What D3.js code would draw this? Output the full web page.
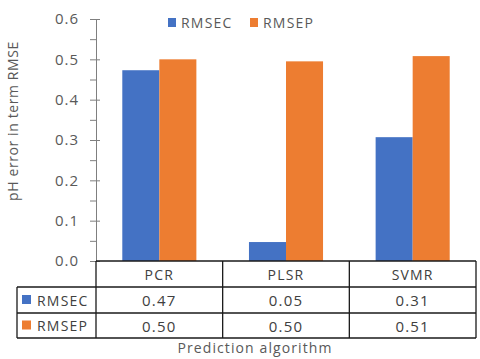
<!DOCTYPE html>
<html>
<head>
<meta charset="utf-8">
<script src="https://cdn.jsdelivr.net/npm/d3@7"></script>
<style>
  body { margin: 0; background: #fff; }
  text { font-family: "Open Sans", sans-serif; }
</style>
</head>
<body>
<div id="chart"></div>
<script>
const categories = ["PCR", "PLSR", "SVMR"];
const seriesNames = ["RMSEC", "RMSEP"];
const rmsec = [0.473, 0.047, 0.307];
const rmsep = [0.500, 0.495, 0.508];
const rmsecLabels = ["0.47", "0.05", "0.31"];
const rmsepLabels = ["0.50", "0.50", "0.51"];
const yTicks = [0, 0.1, 0.2, 0.3, 0.4, 0.5, 0.6];

const colors = { RMSEC: "#4472C4", RMSEP: "#ED7D31" };
const textColor = "#595959";

const width = 480, height = 359;
const plot = { left: 96, right: 476, top: 19, bottom: 261 };
const tableLeft = 17;
const rowH = [261, 287, 313, 338];

const svg = d3.select("#chart").append("svg")
    .attr("width", width)
    .attr("height", height);

const x = d3.scaleBand()
    .domain(categories)
    .range([plot.left, plot.right]);

const x1 = d3.scaleBand()
    .domain(seriesNames)
    .range([0, x.bandwidth()])
    .paddingOuter(0.71)
    .paddingInner(0);

const y = d3.scaleLinear()
    .domain([0, 0.6])
    .range([plot.bottom, plot.top]);

// bars
const data = categories.map((c, i) => ({ cat: c, RMSEC: rmsec[i], RMSEP: rmsep[i] }));
const groups = svg.append("g").selectAll("g")
    .data(data)
    .join("g")
    .attr("transform", d => `translate(${x(d.cat)},0)`);

groups.selectAll("rect")
    .data(d => seriesNames.map(s => ({ s, v: d[s] })))
    .join("rect")
    .attr("x", d => x1(d.s))
    .attr("width", x1.bandwidth())
    .attr("y", d => y(d.v))
    .attr("height", d => y(0) - y(d.v))
    .attr("fill", d => colors[d.s]);

// y axis with minor ticks
const axisColor = "#7f7f7f";
const minorTicks = d3.range(0.05, 0.6, 0.1);
const minor = svg.append("g")
    .attr("transform", `translate(${plot.left},0)`)
    .call(d3.axisLeft(y).tickValues(minorTicks).tickSize(6).tickFormat(""));
minor.select(".domain").remove();
minor.selectAll("line").attr("stroke", axisColor);

const yAxis = svg.append("g")
    .attr("transform", `translate(${plot.left},0)`)
    .call(d3.axisLeft(y).tickValues(yTicks).tickSize(6).tickPadding(11).tickSizeOuter(0)
        .tickFormat(d3.format(".1f")));
yAxis.select(".domain").attr("stroke", axisColor);
yAxis.selectAll(".tick line").attr("stroke", axisColor).attr("x2", 4).attr("x1", -6);
yAxis.selectAll(".tick text")
    .attr("fill", textColor)
    .attr("font-size", 15)
    .attr("letter-spacing", 1);

// y title
svg.append("text")
    .attr("transform", "translate(18,121) rotate(-90)")
    .attr("text-anchor", "middle")
    .attr("fill", textColor)
    .attr("font-size", 14)
    .attr("letter-spacing", 0.6)
    .text("pH error in term RMSE");

// legend
const legend = svg.append("g");
const legendX = [168, 250];
seriesNames.forEach((s, i) => {
    legend.append("rect")
        .attr("x", legendX[i]).attr("y", 18)
        .attr("width", 8).attr("height", 9)
        .attr("fill", colors[s]);
    legend.append("text")
        .attr("x", legendX[i] + 13).attr("y", 28)
        .attr("fill", textColor)
        .attr("font-size", 14)
        .attr("letter-spacing", 1.2)
        .text(s);
});

// data table
const tbl = svg.append("g");
const lineColor = "#1a1a1a";
const hline = (x1v, x2v, yv) => tbl.append("line")
    .attr("x1", x1v).attr("x2", x2v).attr("y1", yv).attr("y2", yv)
    .attr("stroke", lineColor).attr("stroke-width", 1.3);
const vline = (xv, y1v, y2v) => tbl.append("line")
    .attr("x1", xv).attr("x2", xv).attr("y1", y1v).attr("y2", y2v)
    .attr("stroke", lineColor).attr("stroke-width", 1.3);

hline(plot.left, plot.right, rowH[0]);
hline(tableLeft, plot.right, rowH[1]);
hline(tableLeft, plot.right, rowH[2]);
hline(tableLeft, plot.right, rowH[3]);
vline(tableLeft, rowH[1], rowH[3]);
categories.forEach(c => vline(x(c), rowH[0], rowH[3]));
vline(plot.right, rowH[0], rowH[3]);

const cellText = (xv, yv, t, anchor, size) => tbl.append("text")
    .attr("x", xv).attr("y", yv)
    .attr("text-anchor", anchor || "middle")
    .attr("dominant-baseline", "central")
    .attr("fill", "#404040")
    .attr("font-size", size || 14)
    .attr("letter-spacing", 1.2)
    .text(t);

categories.forEach((c, i) => {
    const cx = x(c) + x.bandwidth() / 2;
    cellText(cx, (rowH[0] + rowH[1]) / 2, c);
    cellText(cx, (rowH[1] + rowH[2]) / 2, rmsecLabels[i], "middle", 15);
    cellText(cx, (rowH[2] + rowH[3]) / 2, rmsepLabels[i], "middle", 15);
});
seriesNames.forEach((s, i) => {
    const cy = (rowH[i + 1] + rowH[i + 2]) / 2;
    tbl.append("rect")
        .attr("x", 22).attr("y", cy - 5)
        .attr("width", 9).attr("height", 9)
        .attr("fill", colors[s]);
    cellText(37, cy, s, "start");
});

// x title
svg.append("text")
    .attr("x", 255).attr("y", 353)
    .attr("text-anchor", "middle")
    .attr("fill", textColor)
    .attr("font-size", 14)
    .attr("letter-spacing", 1.1)
    .text("Prediction algorithm");
</script>
</body>
</html>
